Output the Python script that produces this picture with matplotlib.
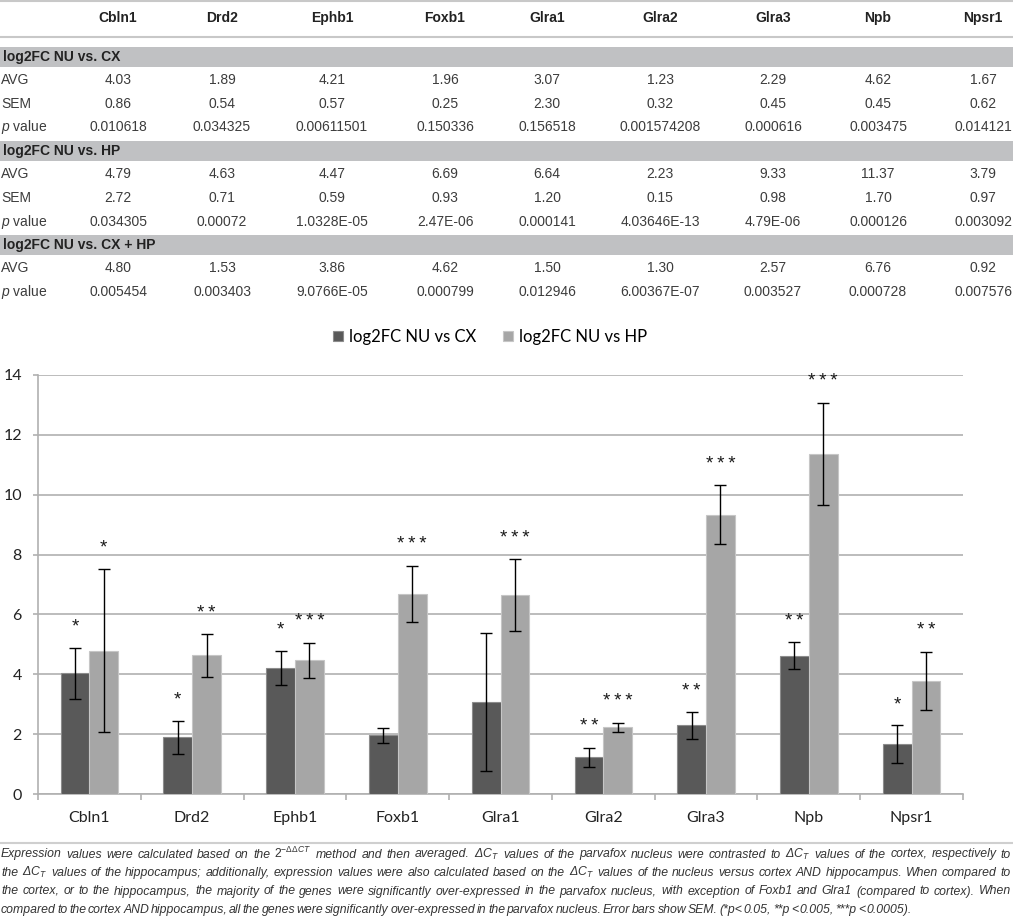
import matplotlib
matplotlib.use("Agg")
import matplotlib.pyplot as plt
from matplotlib.patches import Rectangle
from matplotlib.lines import Line2D
import numpy as np

# table / chart values
genes = ["Cbln1", "Drd2", "Ephb1", "Foxb1", "Glra1", "Glra2", "Glra3", "Npb", "Npsr1"]
avg_cx = [4.03, 1.89, 4.21, 1.96, 3.07, 1.23, 2.29, 4.62, 1.67]
sem_cx = [0.86, 0.54, 0.57, 0.25, 2.30, 0.32, 0.45, 0.45, 0.62]
p_cx = ["0.010618", "0.034325", "0.00611501", "0.150336", "0.156518",
        "0.001574208", "0.000616", "0.003475", "0.014121"]
avg_hp = [4.79, 4.63, 4.47, 6.69, 6.64, 2.23, 9.33, 11.37, 3.79]
sem_hp = [2.72, 0.71, 0.59, 0.93, 1.20, 0.15, 0.98, 1.70, 0.97]
p_hp = ["0.034305", "0.00072", "1.0328E-05", "2.47E-06", "0.000141",
        "4.03646E-13", "4.79E-06", "0.000126", "0.003092"]
avg_cxhp = [4.80, 1.53, 3.86, 4.62, 1.50, 1.30, 2.57, 6.76, 0.92]
p_cxhp = ["0.005454", "0.003403", "9.0766E-05", "0.000799", "0.012946",
          "6.00367E-07", "0.003527", "0.000728", "0.007576"]
stars_cx = ["*", "*", "*", "", "", "**", "**", "**", "*"]
stars_hp = ["*", "**", "***", "***", "***", "***", "***", "***", "**"]
series_names = ["log2FC NU vs CX", "log2FC NU vs HP"]

caption = [
    r"Expression values were calculated based on the $2^{-\Delta\Delta{CT}}$ method and then averaged. ΔC$_T$ values of the parvafox nucleus were contrasted to ΔC$_T$ values of the cortex, respectively to",
    "the ΔC$_T$ values of the hippocampus; additionally, expression values were also calculated based on the ΔC$_T$ values of the nucleus versus cortex AND hippocampus. When compared to",
    "the cortex, or to the hippocampus, the majority of the genes were significantly over-expressed in the parvafox nucleus, with exception of Foxb1 and Glra1 (compared to cortex). When",
    "compared to the cortex AND hippocampus, all the genes were significantly over-expressed in the parvafox nucleus. Error bars show SEM. (*p< 0.05, **p < 0.005, ***p < 0.0005).",
]

plt.rcParams['mathtext.fontset'] = 'custom'
plt.rcParams['mathtext.rm'] = 'Liberation Sans'
plt.rcParams['mathtext.it'] = 'Liberation Sans:italic'
plt.rcParams['mathtext.sf'] = 'Liberation Sans'

W, H = 1013, 923
fig = plt.figure(figsize=(W / 100, H / 100), dpi=100)


def fx(px):
    return px / W


def fy(py):
    return 1 - py / H


# ---------- table ----------
tab_font = dict(family="Liberation Sans", fontsize=10, color="#3c3c3c")
col_x = [118, 222, 332, 445, 547, 660, 773, 878, 983]
line_col = "#c8c8c8"

fig.add_artist(Line2D([0, 1], [fy(1), fy(1)], color=line_col, lw=1.5, transform=fig.transFigure))
fig.add_artist(Line2D([0, 1], [fy(37), fy(37)], color=line_col, lw=1.5, transform=fig.transFigure))
for g, cx in zip(genes, col_x):
    fig.text(fx(cx), fy(18), g, ha="center", va="center", family="Liberation Sans",
             fontsize=10, weight="bold", color="#222222")


def band(y, label):
    fig.add_artist(Rectangle((0, fy(y + 9.5)), 1, 19 / H, facecolor="#c0c1c3",
                             edgecolor="none", transform=fig.transFigure))
    fig.text(fx(3), fy(y), label, ha="left", va="center", family="Liberation Sans",
             fontsize=10, weight="bold", color="#222222")


def row(y, label, vals):
    fig.text(fx(1), fy(y), label, ha="left", va="center", **tab_font)
    for v, cx in zip(vals, col_x):
        fig.text(fx(cx), fy(y), v, ha="center", va="center", **tab_font)


fmt = lambda a: ["%.2f" % v for v in a]
band(57, "log2FC NU vs. CX")
row(80, "AVG", fmt(avg_cx))
row(104, "SEM", fmt(sem_cx))
row(127, "$p$ value", p_cx)
band(151, "log2FC NU vs. HP")
row(174, "AVG", fmt(avg_hp))
row(198, "SEM", fmt(sem_hp))
row(222, "$p$ value", p_hp)
band(245, "log2FC NU vs. CX + HP")
row(268, "AVG", fmt(avg_cxhp))
row(292, "$p$ value", p_cxhp)

# ---------- bar chart ----------
ax = fig.add_axes([fx(38), fy(794), 925 / W, 419 / H])
x = np.arange(len(genes))
w = 0.28
ekw = dict(ecolor="black", elinewidth=1, capsize=4, capthick=1)
ax.bar(x - w / 2, avg_cx, w, yerr=sem_cx, color="#595959", edgecolor="#8c8c8c", lw=0.8,
       error_kw=ekw, label=series_names[0], zorder=3)
ax.bar(x + w / 2, avg_hp, w, yerr=sem_hp, color="#a6a6a6", edgecolor="#c6c6c6", lw=0.8,
       error_kw=ekw, label=series_names[1], zorder=3)

for i in range(len(genes)):
    for off, s, a, e in [(-w / 2, stars_cx[i], avg_cx[i], sem_cx[i]),
                         (w / 2, stars_hp[i], avg_hp[i], sem_hp[i])]:
        if s:
            ax.text(x[i] + off, a + e + 0.55, "\u2009".join(s), ha="center", va="baseline",
                    family=["Liberation Sans", "DejaVu Sans"], fontsize=13.5, color="#1a1a1a")

ax.set_xlim(-0.5, len(genes) - 0.5)
ax.set_ylim(0, 14)
ax.set_yticks(range(0, 15, 2))
ax.set_xticks(x)
ax.set_xticklabels(genes)
ax.set_xticks(np.arange(-0.5, len(genes), 1), minor=True)
ax.tick_params(axis="x", which="major", length=0, pad=12)
ax.tick_params(axis="x", which="minor", length=4.3, color="#b0b0b0", width=1.2)
ax.tick_params(axis="y", length=3.6, color="#b0b0b0", width=1.2, pad=8)
for lab in ax.get_xticklabels() + ax.get_yticklabels():
    lab.set_family("Lato")
    lab.set_fontsize(11.5)
    lab.set_color("#222222")
ax.yaxis.grid(True, color="#b0b0b0", lw=1.2)
ax.set_axisbelow(True)
for sp in ["top", "right"]:
    ax.spines[sp].set_visible(False)
for sp in ["left", "bottom"]:
    ax.spines[sp].set_color("#b0b0b0")
    ax.spines[sp].set_linewidth(1.2)

fig.legend(loc="center", bbox_to_anchor=(fx(490), fy(337)), ncol=2, frameon=False,
           prop=dict(family="Lato", size=12), handlelength=0.6, handleheight=0.6,
           handletextpad=0.35, columnspacing=1.6)

# ---------- caption (justified, last line ends near x=912) ----------
fig.add_artist(Line2D([0, 1], [fy(843), fy(843)], color="#cfcfcf", lw=1.5, transform=fig.transFigure))
cap_fs = 8.8
renderer = fig.canvas.get_renderer()
for k, (s, yb) in enumerate(zip(caption, [857.5, 876, 894.5, 913])):
    words = s.split(" ")
    ts = [fig.text(0, fy(yb), wd, family="Liberation Sans", style="italic", fontsize=cap_fs,
                   color="#333333", va="baseline", ha="left") for wd in words]
    ws = [t.get_window_extent(renderer).width for t in ts]
    right = W - 2 if k < len(caption) - 1 else 912
    gap = (right - 1 - sum(ws)) / (len(ws) - 1)
    xp = 1
    for t, wv in zip(ts, ws):
        t.set_x(fx(xp))
        xp += wv + gap

fig.savefig("out.png", dpi=100)
